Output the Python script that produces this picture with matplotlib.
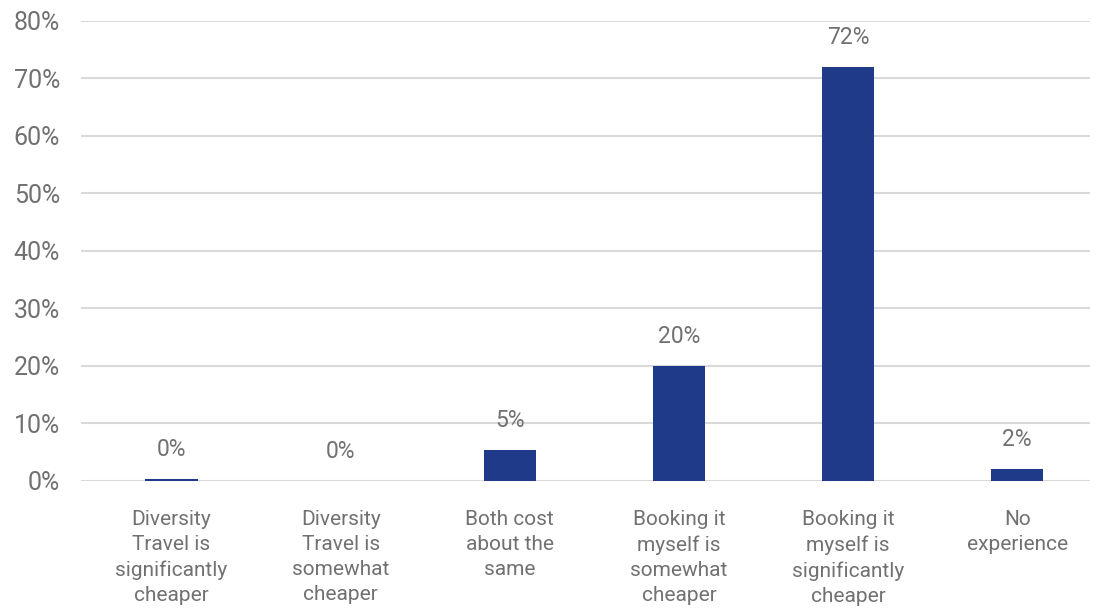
import matplotlib

matplotlib.use("Agg")
import matplotlib.pyplot as plt
import numpy as np

categories = [
    "Diversity\nTravel is\nsignificantly\ncheaper",
    "Diversity\nTravel is\nsomewhat\ncheaper",
    "Both cost\nabout the\nsame",
    "Booking it\nmyself is\nsomewhat\ncheaper",
    "Booking it\nmyself is\nsignificantly\ncheaper",
    "No\nexperience",
]
shares = [0.4, 0.0, 5.4, 20.0, 72.0, 2.1]
y_ticks = [0, 10, 20, 30, 40, 50, 60, 70, 80]

bar_color = "#1f3a88"
text_color = "#717171"
grid_color = "#d9d9d9"

plt.rcParams["font.family"] = ["Roboto", "DejaVu Sans"]

fig = plt.figure(figsize=(11.01, 6.08), dpi=100)
ax = fig.add_axes([0.0736, 0.2089, 0.9164, 0.7566])

x = np.arange(len(categories))
ax.bar(x, shares, width=0.31, color=bar_color, zorder=3)

for xi, v in zip(x, shares):
    ax.annotate(f"{v:.0f}%", (xi, v), xytext=(0, 13), textcoords="offset points",
                ha="center", va="bottom", fontsize=16.5, color=text_color)

ax.set_ylim(0, 80)
ax.set_xlim(-0.535, 5.43)
ax.set_yticks(y_ticks)
ax.set_yticklabels([f"{t}%" for t in y_ticks])
ax.set_xticks(x)
ax.set_xticklabels(categories, fontsize=15, color=text_color, linespacing=1.4)
ax.tick_params(axis="y", length=0, pad=15, labelsize=18, labelcolor=text_color)
ax.tick_params(axis="x", length=0, pad=21)

ax.grid(axis="y", color=grid_color, linewidth=1.5, zorder=0)
ax.set_axisbelow(True)
for side in ax.spines.values():
    side.set_visible(False)

fig.savefig("out.png", dpi=100)
plt.close(fig)
